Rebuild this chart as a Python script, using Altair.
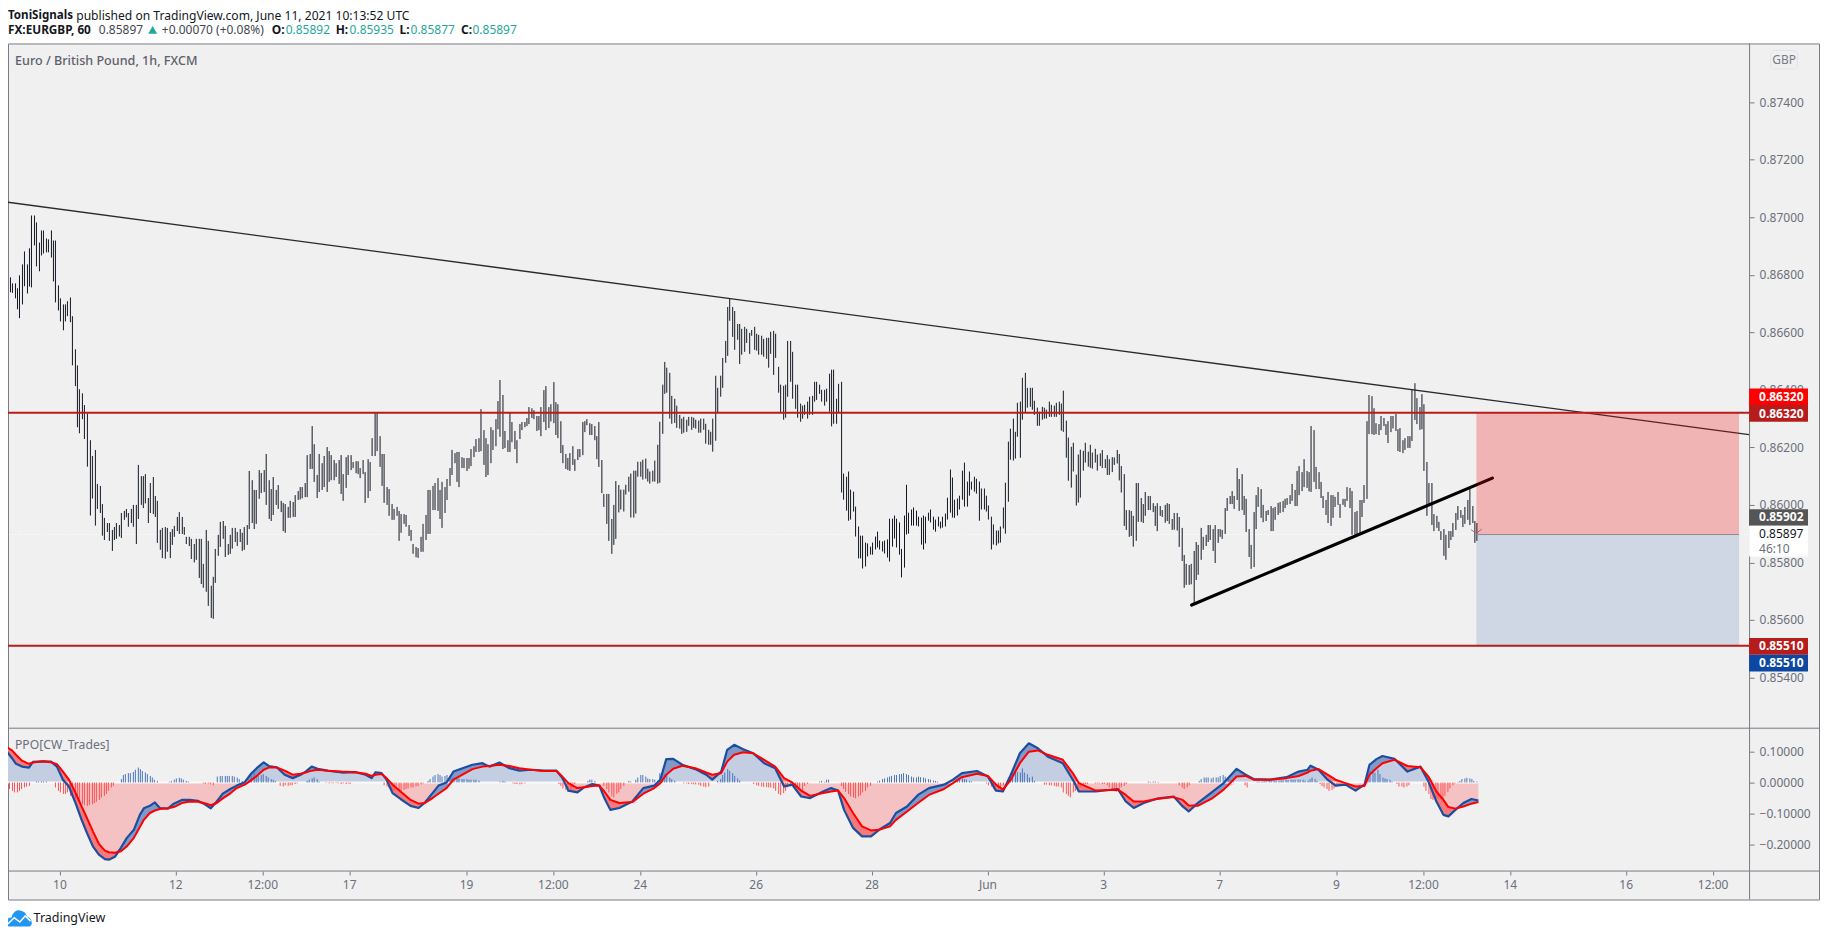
import altair as alt
import pandas as pd

FONT = "Noto Sans"
BG = "#f0f0f0"
FRAME = "#787b86"
AXIS_TXT = "#6b6f7b"
TEAL = "#26a69a"

# ---- OHLC high / low of each hourly bar, in 1e-5 price units ----
bars_a = [(86794,86752),(86791,86739),(86770,86737),(86770,86718),(86753,86680),(86798,86649),(86836,86697),(86881,86760),(86836,86735),(86892,86759),(87006,86756),(87006,86902),(86982,86829),(86912,86812),(86954,86867),(86954,86874),(86926,86878),(86923,86878),(86954,86860),(86919,86777),(86919,86704),(86763,86676),(86718,86638),(86697,86607),(86697,86638),(86708,86656),(86721,86635),(86656,86485),(86541,86413),(86485,86270),(86402,86249),(86388,86298),(86347,86229)]
bars_b = [(86318,86133),(86225,85963),(86170,86022),(86191,85928),(86073,85986),(86066,85972),(86003,85893),(85955,85878),(85937,85906),(85937,85875),(85913,85840),(85923,85878),(85937,85882),(85930,85890),(85972,85885),(85979,85948),(85986,85957),(85972,85924),(85986,85937),(86000,85924),(86000,85864),(86139,85951),(86100,86000),(86100,85989),(86107,86005),(86024,85937),(86076,85972),(86097,85968),(86031,85958),(86014,85868),(85913,85844),(85920,85815),(85923,85813),(85920,85837),(85906,85815),(85916,85861),(85927,85889),(85958,85909),(85975,85899),(85958,85899),(85923,85896),(85889,85864),(85889,85857),(85882,85812),(85864,85800),(85882,85809),(85882,85746),(85882,85725),(85795,85712),(85913,85698),(85875,85649),(85719,85607),(85750,85604),(85847,85729),(85896,85823),(85941,85854),(85944,85882),(85927,85819),(85864,85826),(85896,85830),(85920,85848),(85920,85871),(85906,85857),(85916,85871),(85903,85840),(85923,85844),(85930,85861),(86118,85916),(86086,85937),(86052,85916),(86052,85934),(86121,86021),(86111,86041),(86121,86045),(86177,86000),(86086,85951),(86055,85944),(86097,85965),(86052,86000),(86069,85986),(86014,85975),(86007,85909),(86003,85903),(85993,85955),(86014,85955),(86010,85958),(86034,85958),(86048,86017),(86062,86019),(86062,86023),(86076,86027),(86173,86027),(86177,86125),(86274,86125),(86211,86080),(86104,86024),(86177,86045),(86145,86052),(86170,86062),(86201,86045),(86187,86080),(86173,86086),(86156,86086),(86145,86097),(86156,86073),(86173,86038),(86107,86014),(86166,86059),(86173,86104),(86173,86121),(86149,86128),(86152,86110),(86152,86107),(86128,86093),(86156,86107),(86114,86007),(86159,86024),(86149,86048),(86232,86170),(86320,86170),(86320,86187),(86239,86132),(86177,86066),(86177,86007),(86062,86000),(86055,85962),(86003,85948),(85986,85948),(85993,85962),(85979,85875),(85968,85903),(85968,85934),(85965,85924),(85930,85892),(85913,85875),(85864,85830),(85854,85818),(85850,85816),(85889,85837),(85934,85837),(85965,85878),(86052,85899),(86052,85899),(86066,85982),(86076,85982),(86093,85979),(86052,85951),(86080,85920),(86062,85972),(86090,86017),(86128,86066),(86191,86104),(86180,86145),(86184,86080),(86184,86062),(86166,86128),(86163,86128),(86163,86118),(86163,86126),(86194,86135),(86204,86166),(86229,86184),(86232,86184),(86333,86187),(86260,86139),(86232,86097),(86211,86104),(86270,86145),(86260,86191),(86298,86204),(86361,86263),(86434,86237),(86382,86194),(86257,86198),(86225,86184),(86322,86184),(86288,86218),(86257,86194),(86225,86145),(86281,86229),(86288,86260),(86288,86270),(86302,86274),(86340,86281),(86336,86302),(86329,86298),(86309,86257),(86309,86260),(86340,86239),(86399,86288),(86413,86260),(86340,86267),(86350,86290),(86427,86284),(86357,86243),(86350,86232),(86291,86180),(86208,86145),(86177,86125),(86163,86121),(86180,86118),(86204,86139),(86159,86118),(86194,86156),(86194,86166),(86288,86173),(86291,86253),(86298,86277),(86284,86243),(86281,86243),(86274,86225),(86239,86159),(86288,86132),(86156,86041),(86038,85993),(86038,85934),(86038,85875),(85951,85830),(86000,85861),(86083,85882),(86069,85974)]
bars_c = [(86053,85984),(86053,85977),(86070,86036),(86098,86046),(86109,85956),(86119,85956),(86119,85970),(86150,86098),(86150,86098),(86157,86088),(86161,86091),(86126,86081),(86116,86074),(86119,86081),(86154,86081),(86209,86074),(86289,86077),(86418,86247),(86497,86386),(86477,86390),(86459,86300),(86379,86282),(86369,86285),(86345,86268),(86313,86265),(86300,86247),(86306,86251),(86296,86254),(86306,86275),(86306,86261),(86303,86268),(86296,86265),(86293,86251),(86300,86251),(86300,86261),(86282,86213),(86261,86209),(86254,86209),(86300,86185),(86449,86223),(86407,86320),(86449,86376),(86511,86407),(86570,86494),(86688,86518),(86718,86640),(86688,86584),(86674,86539),(86629,86574),(86629,86490),(86612,86522),(86619,86532),(86612,86563),(86598,86525),(86608,86588),(86619,86539),(86595,86536),(86591,86522),(86588,86522),(86577,86515),(86581,86508),(86581,86477),(86602,86525),(86605,86452),(86595,86511),(86480,86390),(86418,86320),(86414,86296),(86418,86303),(86570,86376),(86570,86428),(86532,86369),(86418,86334),(86418,86303),(86352,86289),(86345,86300),(86348,86313),(86359,86300),(86376,86313),(86379,86313),(86428,86359),(86428,86365),(86418,86386),(86400,86359),(86400,86345),(86404,86359),(86456,86324),(86470,86273),(86470,86282),(86369,86282),(86421,86320),(86428,86043),(86109,86018),(86098,85980),(86116,85945),(86053,85949),(86046,85977),(85994,85890),(85925,85814),(85893,85814),(85893,85779),(85869,85786),(85866,85821),(85855,85827),(85869,85827),(85890,85845),(85907,85852),(85876,85845),(85873,85838),(85876,85831),(85880,85817),(85952,85803),(85952,85855),(85963,85883),(85952,85852),(85939,85827),(85847,85748),(85963,85782),(86070,85897),(85973,85900),(85984,85928),(85991,85928),(85980,85928),(85959,85925),(85956,85862),(85963,85845),(85959,85866),(85973,85945),(85984,85939),(85959,85914),(85949,85907),(85959,85925),(85942,85918),(85959,85921),(85970,85925),(86025,85949),(86123,85973),(86095,85956),(86018,85955),(86022,85963),(86032,85984),(86119,86018),(86147,85994),(86081,85994),(86116,86032),(86081,86053),(86098,86046),(86091,86039),(86081,85945),(86057,85984),(86057,85984),(86032,85977),(85998,85949),(85959,85845),(85932,85862),(85911,85859),(85911,85866),(85925,85869),(85991,85918),(86077,85900),(86220,86011),(86265,86157),(86300,86154),(86254,86161),(86355,86237),(86359,86164),(86442,86296),(86459,86320),(86407,86338),(86407,86341),(86407,86331),(86362,86313),(86338,86275),(86324,86275),(86341,86296),(86338,86300),(86331,86300),(86359,86306),(86348,86306),(86345,86306),(86355,86306),(86359,86313),(86352,86258),(86397,86254),(86293,86164),(86234,86084),(86202,86060),(86216,86116),(86105,85998),(86175,86008),(86192,86025),(86188,86119),(86216,86147),(86185,86133),(86209,86129),(86182,86126),(86195,86147),(86175,86119)]
bars_d = [(86179,86135),(86191,86128),(86159,86128),(86173,86104),(86159,86104),(86166,86114),(86165,86139),(86191,86144),(86177,86085),(86135,86043),(86107,85927),(85982,85913),(85982,85889),(85979,85892),(85962,85855),(86076,85875),(86076,85941),(86024,85941),(86003,85937),(86045,85962),(86031,85982),(86031,85982),(86006,85975),(85996,85927),(86006,85909),(85996,85962),(85982,85958),(86000,85938),(86006,85944),(86003,85934),(85951,85913),(85972,85914),(85972,85911),(85958,85854),(85920,85805),(85826,85712),(85795,85722),(85791,85722),(85795,85724),(85840,85653),(85871,85739),(85861,85757),(85920,85809),(85889,85844),(85896,85857),(85930,85871),(85930,85878),(85916,85840),(85930,85798),(85916,85868),(85916,85889),(85913,85882),(85989,85899),(86024,85979),(86031,86003),(86048,86003),(86031,85986),(86128,86017),(86090,85979),(86107,85982),(86031,85965),(86021,85906),(85916,85819),(85861,85778),(85975,85784),(86034,85916),(86062,85993),(86055,85955),(86000,85940),(85979,85944),(85982,85965),(85996,85909),(85989,85909),(85993,85948),(86007,85965),(86010,85972),(86014,85975),(86021,85989),(86024,86000),(86034,86003),(86073,86014),(86052,85996),(86118,85996),(86135,86034),(86114,86048),(86159,86062),(86118,86059),(86114,86047),(86274,86045),(86260,86080),(86132,86055),(86114,86055),(86080,86024),(86031,85989),(86017,85965),(86045,85937),(86034,85927),(86034,85955),(86028,85993),(86045,86000),(86003,85955),(86021,86000),(86021,85993),(86062,86014),(86059,85989),(86048,85896),(85975,85896),(85979,85896),(86017,85899),(86017,85958),(86069,86007),(86291,86021),(86382,86246),(86378,86246),(86336,86243),(86284,86246),(86281,86243),(86309,86260),(86302,86274),(86281,86243),(86291,86215),(86309,86253),(86309,86266),(86316,86257),(86263,86187),(86267,86184),(86225,86180),(86232,86191),(86239,86198),(86239,86198),(86402,86222),(86423,86295),(86371,86281),(86340,86261),(86385,86263),(86350,86118),(86149,85962),(86076,86000),(86076,85930),(85968,85909),(85962,85920),(85941,85909),(85909,85878),(85916,85823),(85896,85809),(85909,85850),(85909,85878),(85937,85889),(85972,85913),(85996,85948),(85982,85955),(85965,85923),(85993,85934),(86017,85948),(86059,85930),(85996,85937),(85944,85868),(85937,85875)]
# first / last bar number of each run of bars
bar_runs = [(bars_a,-21.8,10.0),(bars_b,11.3,230.9),(bars_c,232.0,429.1),(bars_d,430.1,586.2)]

# ---- PPO oscillator: (bar number, ppo, signal) ----
ppo_rows = [(-21.9,.099,.113),(-20,.078,.103),(-18.3,.060,.089),(-15.9,.051,.070),(-13,.048,.060),(-11,.066,.064),(-6.9,.068,.068),(-3.6,.067,.065),(-1.1,.051,.059),(1.3,.009,.035),(3.8,-.013,.009),(6.2,-.061,-.029),(8.7,-.114,-.072),(11.1,-.162,-.114),(13.6,-.205,-.157),(16,-.232,-.197),(18.5,-.246,-.219),(20.1,-.248,-.224),(22.6,-.239,-.226),(25,-.210,-.221),(27.5,-.178,-.205),(30.7,-.152,-.178),(33.2,-.104,-.143),(34.8,-.083,-.120),(37.3,-.075,-.098),(39.2,-.064,-.090),(41.4,-.082,-.085),(44.6,-.084,-.083),(47.1,-.068,-.079),(50.4,-.056,-.066),(53.6,-.056,-.061),(56.9,-.059,-.062),(59.3,-.068,-.066),(62.3,-.083,-.073),(64.7,-.061,-.066),(67.5,-.036,-.051),(70.8,-.020,-.034),(73.2,-.010,-.018),(76.5,.001,-.007),(79,.027,.006),(81.4,.046,.021),(84.3,.065,.041),(86.3,.053,.048),(89.6,.049,.048),(92.8,.025,.038),(96.1,.014,.025),(99.4,.025,.028),(101.8,.035,.032),(104.3,.051,.038),(106.7,.044,.041),(110.8,.038,.038),(116.6,.032,.035),(122.3,.033,.033),(126.4,.025,.028),(128.8,.014,.021),(130.4,.033,.025),(132.9,.030,.027),(135.3,.009,.014),(137.8,-.034,-.007),(141.1,-.053,-.029),(145.1,-.075,-.056),(148.4,-.082,-.068),(150.9,-.066,-.066),(154.1,-.034,-.050),(156.6,-.010,-.036),(159.9,0,-.018),(162.8,.035,.009),(166.4,.046,.025),(170.5,.057,.043),(174.6,.062,.051),(177.8,.051,.053),(182,.064,.057),(186,.046,.053),(190.1,.038,.046),(195,.041,.041),(200,.038,.037),(205.3,.038,.037),(208,.014,.019),(210.5,-.026,-.002),(214.1,-.032,-.018),(217,-.015,-.015),(220.3,-.005,-.011),(223.1,-.010,-.010),(225.2,-.050,-.029),(227.7,-.088,-.056),(231.4,-.082,-.066),(236.8,-.061,-.063),(241.3,-.018,-.036),(245.7,-.010,-.018),(248.4,.009,-.002),(250.8,.075,.025),(253.8,.076,.044),(257.4,.057,.054),(262.8,.043,.046),(267.2,.025,.032),(269.9,.009,.025),(273.5,.035,.030),(276.2,.105,.067),(278.9,.121,.089),(282.5,.107,.097),(287,.094,.094),(291.4,.062,.073),(295.9,.046,.051),(299.5,-.013,.014),(303.1,-.007,0),(306.7,-.045,-.026),(310.3,-.050,-.043),(315.6,-.029,-.034),(319.2,-.018,-.029),(321.9,-.026,-.026),(324.6,-.088,-.050),(328.2,-.146,-.098),(331.8,-.173,-.141),(335.4,-.173,-.154),(338.9,-.152,-.152),(343.4,-.130,-.141),(346.1,-.098,-.120),(350.6,-.077,-.093),(355.1,-.040,-.066),(359.6,-.018,-.040),(365.8,-.007,-.021),(369.4,.009,-.002),(373,.030,.017),(379.3,.037,.028),(383.8,.019,.021),(387.3,-.026,-.007),(390,-.029,-.023),(393.6,.025,.009),(397.2,.094,.062),(400.8,.126,.099),(404.4,.110,.103),(408.9,.083,.089),(415.1,.062,.073),(419.6,.003,.025),(421.4,-.029,-.002),(428.6,-.029,-.026),(437.5,-.021,-.023),(441.1,-.061,-.040),(444.2,-.082,-.061),(448.3,-.066,-.061),(453.7,-.052,-.053),(460.8,-.045,-.047),(464.4,-.077,-.056),(467.1,-.093,-.074),(470.7,-.066,-.075),(477,-.029,-.050),(481.4,-.002,-.023),(486.8,.044,.019),(490.4,.025,.021),(494,.011,.009),(500.3,.009,.009),(507.4,.017,.014),(512.5,.035,.021),(516,.041,.032),(517.4,.054,.038),(520.8,.041,.043),(524.3,.009,.025),(527.8,-.010,.009),(532,-.007,-.002),(536.2,-.026,-.013),(539.6,-.007,-.011),(541.7,.057,.025),(544.5,.075,.046),(547,.085,.062),(552.2,.076,.073),(557.7,.035,.053),(562.9,.051,.049),(566.1,.003,.019),(569.6,-.061,-.029),(572.3,-.104,-.056),(574.4,-.109,-.079),(577.2,-.088,-.084),(580.7,-.066,-.077),(583.9,-.053,-.068),(586.7,-.058,-.063)]

# ---- PPO histogram: (first bar number, values in thousandths) ----
hist_runs = [(-22,[-16,-21,-27,-32,-32,-27,-21,-16,-13,-11]),(-10,[3,3,3,3,3]),(-2,[-16,-27,-32,-37,-37,-32,-43,-48,-53,-59,-64,-70,-73,-75,-73,-70,-66,-62,-56,-48,-43,-37,-27,-16,-11]),(25,[11,24,27,30,30,34,41,48,43,37,32,27,21,16,9,5]),(45,[2,5,9,13,15,13,9,5,3]),(59,[-3,-5,-3,-6,-9]),(65,[19,21,21,21,21,21,21,19,16,11,5,3,3]),(78,[9,27,32,24,21,24,27,21,16,11,9,5]),(91,[-11,-13,-9,-11,-9,-9,-5,-3]),(102,[5,9,13,16,11,3]),(110,[-2,-3,-2,-3,-2,-3,-5,-3,-5,-3,-5]),(134,[-9,-13,-19,-24,-27,-21,-24,-27,-24,-21,-19,-16,-16,-13,-11,-6,-3]),(152,[5,11,19,24,27,24,19,21,24,21,16]),(163,[16,13,13,11,11,11,9,9,9,9,6]),(182,[3,5,3]),(187,[-3,-5,-5,-6,-5,-3]),(206,[-5,-11,-19,-24,-30,-27,-16,-5]),(218,[5,9,9,5]),(225,[-11,-21,-32,-43,-48,-37,-32,-21,-11]),(235,[5,3]),(238,[9,16,24,24,19,13,11,11,9,6]),(248,[30,43,27,27,16,11,6]),(258,[-3,-3,-5,-5,-6,-6,-7,-11,-13,-15,-13]),(272,[5,11,24,32,43,37,30,21,13,6]),(287,[-5,-9,-11,-13,-14,-15,-16,-16,-19,-27,-37,-41,-34,-27,-16,-13,-11,-27,-16,-27,-32,-11,-5]),(314,[3,5,2,9,9]),(323,[-11,-21,-30,-37,-45,-48,-51,-45,-41,-32,-27,-16,-11]),(338,[3,6,11,13,16,19,21,24,24,27,27,30,27,24,19,16,16,19,17,16,13,11,9,6,5,3]),(370,[5,9,11,13,11,9,5,3]),(383,[-3,-9,-13,-19,-24,-27,-19,-9]),(392,[16,30,37,41,34,32,45,32,27,16,19,5]),(407,[-7,-7,-9,-9,-11,-13,-13,-16,-32,-37,-43,-48,-32,-27,-21,-16,-11,-5,-5]),(428,[-3,-3,-3,-5,-5,-9,-16,-21,-27,-30,-24,-16,-11,-5]),(450,[3,2,3,3,2]),(463,[-9,-16,-21,-16,-9]),(471,[5,11,16,16,16,13,16,16,16,21,24,19,13,9,5]),(490,[-9,-16]),(495,[2,3,3,4,4,5,5,6,6,6,7,7,8,8,9,9,9,9]),(513,[9,9,6,6,11,16,11,5]),(521,[-5,-11,-16,-21,-27,-24,-19,-13,-9,-5]),(541,[11,37,41,32,41,27,16,13,11,9,3]),(553,[-5,-13,-13,-16,-13,-9]),(564,[-13,-27,-37,-53,-56,-48,-51,-53,-56,-43,-30,-19,-9,-3]),(578,[2,5,11,13,15,13,11,5,3])]

# ---- drawings ----
res_level = 0.8632
sup_level = 0.8551
last_price = 0.85897
down_line = [(-22.4,0.87053),(698.9,0.86244)]
up_line = [(468.1,0.85652),(592.7,0.86093)]
close_mark = [(583.9,0.85913),(586.2,0.85901),(588.0,0.85915)]
pos_k = (586.1,694.7)
price_ticks = [0.874,0.872,0.870,0.868,0.866,0.864,0.862,0.860,0.858,0.856,0.854]
ppo_ticks = [0.1,0,-0.1,-0.2]
time_ticks = [0,48,84,120,168,204,240,288,336,384,432,480,528,564,600,648,684]
time_labels = ["10","12","12:00","17","19","12:00","24","26","28","Jun","3","7","9","12:00","14","16","12:00"]

rows = []
for seq, a, b in bar_runs:
    for j, (hi, lo) in enumerate(seq):
        rows.append({"k": a + j * (b - a) / (len(seq) - 1), "hi": hi / 1e5, "lo": lo / 1e5})
bars = pd.DataFrame(rows)

ppo = pd.DataFrame(ppo_rows, columns=["k", "ppo", "sig"])
ppo["zero"] = 0.0
ppo["base_up"] = ppo["sig"].clip(lower=0)
ppo["base_dn"] = ppo["sig"].clip(upper=0)
ppo["gap_up"] = ppo[["ppo", "sig"]].max(axis=1)
ppo["gap_dn"] = ppo[["ppo", "sig"]].min(axis=1)

hist = pd.DataFrame([{"k": s + j, "v": v / 1000, "z": 0.0} for s, vs in hist_runs for j, v in enumerate(vs)])
times = pd.DataFrame({"k": time_ticks, "t": time_labels})

W, H = 1813, 857
AX_X, PANE_Y = 1743, 686
xs = alt.Scale(domain=[-21.53, 727.8], nice=False, zero=False, round=True)
X = alt.X("k:Q", scale=xs, axis=None)
Ym = alt.Scale(domain=[0.85222, 0.87604], range=[PANE_Y, 0], nice=False, zero=False)
Ys = alt.Scale(domain=[-0.2862, 0.1728], range=[829, PANE_Y], nice=False, zero=False)

def one(**kw):
    return pd.DataFrame([kw or {"a": 1}])

def text(t, px, py, color="#131722", size=12, weight="normal", align="left"):
    return alt.Chart(one(t=t)).mark_text(font=FONT, fontSize=size, fontWeight=weight, color=color,
        align=align, baseline="middle").encode(x=alt.value(px - 8), y=alt.value(py - 43), text="t:N")

def box(x0, x1, y0, y1, fill, **kw):
    return alt.Chart(one()).mark_rect(fill=fill, **kw).encode(
        x=alt.value(x0 - 8), x2=alt.value(x1 - 8), y=alt.value(y0 - 43), y2=alt.value(y1 - 43))

def hrule(y, x0, x1, color=FRAME, width=1):
    return alt.Chart(one()).mark_rule(color=color, strokeWidth=width).encode(
        x=alt.value(x0), x2=alt.value(x1), y=alt.value(y))

# ---------- main pane ----------
price_axis = alt.Axis(orient="right", offset=AX_X - W, values=price_ticks, format=".5f", domain=False, grid=False,
                      tickColor=FRAME, tickSize=5, labelPadding=5, labelColor=AXIS_TXT, labelFont=FONT,
                      labelFontSize=12, title=None, labelOverlap=False)

bar_layer = alt.Chart(bars).mark_rule(color="#131722", strokeWidth=1, xOffset=0.5).encode(
    x=X, y=alt.Y("lo:Q", scale=Ym, axis=price_axis, title=None), y2="hi:Q")

def price_rule(y, k0, k1, color, width, **kw):
    d = pd.DataFrame({"k": [k0], "k2": [k1], "y": [y]})
    return alt.Chart(d).mark_rule(color=color, strokeWidth=width, **kw).encode(
        x=X, x2="k2:Q", y=alt.Y("y:Q", scale=Ym, axis=None))

def seg(pts, color, width):
    d = pd.DataFrame(pts, columns=["k", "y"])
    return alt.Chart(d).mark_line(color=color, strokeWidth=width, strokeCap="round").encode(
        x=X, y=alt.Y("y:Q", scale=Ym, axis=None))

def pos_rect(y0, y1, color, opacity):
    d = pd.DataFrame({"k": [pos_k[0]], "k2": [pos_k[1]], "y": [y0], "y2": [y1]})
    return alt.Chart(d).mark_rect(fill=color, opacity=opacity).encode(
        x=X, x2="k2:Q", y=alt.Y("y:Q", scale=Ym, axis=None), y2="y2:Q")

main = [
    price_rule(last_price, -22.4, 698.9, "#ffffff", 1, strokeDash=[1, 2]),
    bar_layer,
    seg(down_line, "#2a2a2e", 1.3),
    seg(up_line, "#000000", 3.2),
    seg(close_mark, "#808080", 1),
    pos_rect(res_level, last_price, "#f50000", 0.25),
    pos_rect(last_price, sup_level, "#4b6eb4", 0.2),
    price_rule(last_price, pos_k[0], pos_k[1], "#8a8d96", 1),
    price_rule(res_level, -22.4, 698.9, "#b71c1c", 2),
    price_rule(sup_level, -22.4, 698.9, "#b71c1c", 2),
]

# ---------- oscillator pane ----------
ppo_axis = alt.Axis(orient="right", offset=AX_X - W, values=ppo_ticks, format=".5f", domain=False, grid=False,
                    tickColor=FRAME, tickSize=5, labelPadding=5, labelColor=AXIS_TXT, labelFont=FONT,
                    labelFontSize=12, title=None, labelOverlap=False)

def band(top, bottom, color):
    return alt.Chart(ppo).mark_area(color=color, opacity=1).encode(
        x=X, y=alt.Y(f"{top}:Q", scale=Ys, axis=None), y2=f"{bottom}:Q")

def hist_layer(d, color):
    return alt.Chart(d).mark_rule(color=color, strokeWidth=1, xOffset=0.5).encode(
        x=X, y=alt.Y("v:Q", scale=Ys, axis=None), y2="z:Q")

def osc_line(field, color, width):
    return alt.Chart(ppo).mark_line(color=color, strokeWidth=width, strokeJoin="round").encode(
        x=X, y=alt.Y(f"{field}:Q", scale=Ys, axis=None))

zero_df = pd.DataFrame({"k": [-21.9], "k2": [586.7], "z": [0.0]})
sub = [
    alt.Chart(pd.DataFrame({"v": ppo_ticks})).mark_tick(opacity=0).encode(y=alt.Y("v:Q", scale=Ys, axis=ppo_axis)),
    band("base_up", "zero", "#c4cee3"),
    band("base_dn", "zero", "#f4c2c2"),
    band("gap_up", "sig", "#7f9ac8"),
    band("gap_dn", "sig", "#f47a7c"),
    alt.Chart(zero_df).mark_rule(color="#ffffff", strokeWidth=2, opacity=0.85).encode(
        x=X, x2="k2:Q", y=alt.Y("z:Q", scale=Ys, axis=None)),
    hist_layer(hist[hist.v > 0], "#4a76bc"),
    hist_layer(hist[hist.v < 0], "#ff5252"),
    osc_line("ppo", "#1c4ea0", 2.2),
    osc_line("sig", "#ff0000", 2),
]

# ---------- time scale ----------
time_layers = [
    alt.Chart(times).mark_rule(color=FRAME, strokeWidth=1, xOffset=0.5).encode(x=X, y=alt.value(829), y2=alt.value(833)),
    alt.Chart(times).mark_text(font=FONT, fontSize=12, color=AXIS_TXT, align="center", baseline="middle").encode(
        x=X, y=alt.value(842.7), text="t:N"),
]

# ---------- overlays: frame lines, price tags, header, footer ----------
def tag(x_txt, y0, y1, fill, label, ty, color="#ffffff"):
    return [box(1751, 1810, y0, y1, fill),
            text(label, x_txt, ty, color=color, weight="bold" if color == "#ffffff" else "normal")]

over = [
    hrule(PANE_Y - 0.5, 0, W), hrule(829 - 0.5, 0, W),
    alt.Chart(one()).mark_rule(color=FRAME, strokeWidth=1, xOffset=0.5).encode(x=alt.value(AX_X), y=alt.value(0), y2=alt.value(H)),
]
over += tag(1761, 388.3, 405, "#ff0000", "0.86320", 396.7)
over += tag(1761, 405, 421.7, "#b71c1c", "0.86320", 413.7)
over += tag(1761, 509.3, 525.7, "#555555", "0.85902", 517.3)
over += tag(1761, 525.7, 556.7, "#ffffff", "0.85897", 534.3, color="#131722")
over += [text("46:10", 1761, 548.7, color=AXIS_TXT)]
over += tag(1761, 638.3, 655, "#b71c1c", "0.85510", 646.7)
over += tag(1761, 655, 671.7, "#0d47a1", "0.85510", 663.3)
over += [
    alt.Chart(one()).mark_rect(fill=BG, stroke="#e0e3eb", cornerRadius=4).encode(
        x=alt.value(1772.5 - 8), x2=alt.value(1799.5 - 8), y=alt.value(50 - 43), y2=alt.value(68.5 - 43)),
    text("GBP", 1786, 59.5, color=FRAME, size=12, align="center"),
    text("Euro / British Pound, 1h, FXCM", 15, 60.7, color="#5d606b", size=12.6, weight=500),
    text("PPO[CW_Trades]", 15, 745.7, color=AXIS_TXT, size=12.2),
    text("ToniSignals", 8, 16, size=11.6, weight="bold"),
    text("published on TradingView.com, June 11, 2021 10:13:52 UTC", 76.3, 16, size=12.1),
    text("FX:EURGBP, 60", 8, 30, size=11.8, weight="bold"),
    text("0.85897", 98.9, 30, color="#434651"),
    alt.Chart(one()).mark_point(shape="triangle-up", filled=True, color=TEAL, size=80, opacity=1).encode(
        x=alt.value(152.8 - 8), y=alt.value(29.5 - 43)),
    text("+0.00070 (+0.08%)", 162, 30, color="#434651"),
    text("O:", 272, 30, weight="bold"), text("0.85892", 286, 30, color=TEAL),
    text("H:", 336, 30, weight="bold"), text("0.85935", 350, 30, color=TEAL),
    text("L:", 400, 30, weight="bold"), text("0.85877", 411, 30, color=TEAL),
    text("C:", 461.5, 30, weight="bold"), text("0.85897", 473, 30, color=TEAL),
    alt.Chart(one()).mark_point(
        shape="M-1,.5 C-1,.1 -.7,-.05 -.55,0 C-.5,-.4 -.1,-.7 .2,-.5 C.5,-.45 .6,-.2 .65,-.05 C.9,0 1,.25 1,.45 C1,.6 .9,.7 .8,.7 L-.8,.7 Z",
        filled=True, color="#2196f3", size=676, opacity=1).encode(x=alt.value(18.8 - 8), y=alt.value(918 - 43)),
    alt.Chart(one()).mark_point(
        shape="M-.85,.5 L-.35,.02 L.08,.35 L.5,-.12 L.9,.28",
        filled=False, color="#ffffff", strokeWidth=1.5, size=676, opacity=1).encode(x=alt.value(18.8 - 8), y=alt.value(918 - 43)),
    text("TradingView", 33.6, 919, size=12.5),
]

chart = alt.layer(*main, *sub, *time_layers, *over).resolve_scale(y="independent").properties(
    width=W, height=H,
    autosize=alt.AutoSizeParams(type="none"),
    padding={"left": 0, "top": 35, "right": 1, "bottom": 29},
    background="#ffffff",
).configure_view(fill=BG, stroke=FRAME, strokeWidth=1)

chart.save("out.html", embed_options={"renderer": "svg", "actions": False})
